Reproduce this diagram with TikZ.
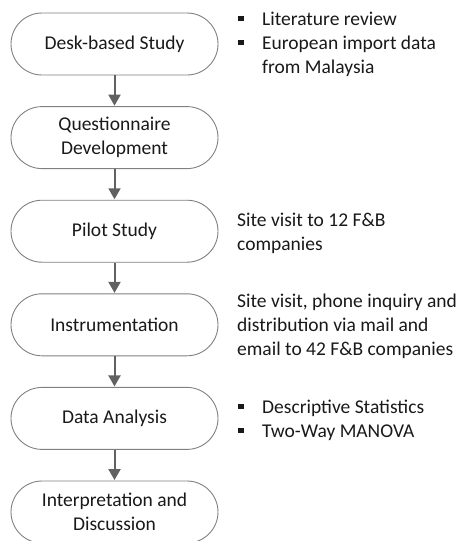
\documentclass[tikz,border=0pt]{standalone}
\usepackage{fontspec}
\setmainfont{Carlito}
\usetikzlibrary{arrows.meta}

% small filled square used as list marker
\newcommand{\sqmark}{\rule[4pt]{5.5pt}{5.5pt}}
\newcommand{\markitem}[1]{\makebox[24pt][l]{\sqmark}#1}

\tikzset{
  stage/.style={draw=black!50, line width=0.9pt, rounded corners=31pt,
    minimum width=207pt, minimum height=62pt, inner sep=0pt, align=center,
    font=\fontsize{19.5}{24}\selectfont, text=black!90},
  note/.style={anchor=base west, inner sep=0pt,
    font=\fontsize{19.5}{24}\selectfont, text=black!90},
  flow/.style={draw=black!62, line width=2pt,
    -{Triangle[length=11pt,width=12pt]}, shorten >=0.5pt}
}

\begin{document}
\begin{tikzpicture}[x=1pt,y=-1pt]
\useasboundingbox (0,0) rectangle (460,541);

% process stages
\node[stage] (s1) at (114.5,44)    {Desk-based Study};
\node[stage] (s2) at (114.5,137.6) {Questionnaire\\Development};
\node[stage] (s3) at (114.5,231.2) {Pilot Study};
\node[stage] (s4) at (114.5,324.8) {Instrumentation};
\node[stage] (s5) at (114.5,418.4) {Data Analysis};
\node[stage] (s6) at (114.5,512)   {Interpretation and\\Discussion};

% connectors
\draw[flow] (s1.south) -- (s2.north);
\draw[flow] (s2.south) -- (s3.north);
\draw[flow] (s3.south) -- (s4.north);
\draw[flow] (s4.south) -- (s5.north);
\draw[flow] (s5.south) -- (s6.north);

% side notes
\node[note] (d1) at (238,25)
  {\begin{tabular}[t]{@{}l@{}}\markitem{Literature review}\\
   \markitem{European import data}\\
   \hspace{24pt}from Malaysia\end{tabular}};
\node[note] (d3) at (237,226)
  {\begin{tabular}[t]{@{}l@{}}Site visit to 12 F\&B\\companies\end{tabular}};
\node[note] (d4) at (237,307)
  {\begin{tabular}[t]{@{}l@{}}Site visit, phone inquiry and\\
   distribution via mail and\\email to 42 F\&B companies\end{tabular}};
\node[note] (d5) at (238,413)
  {\begin{tabular}[t]{@{}l@{}}\markitem{Descriptive Statistics}\\
   \markitem{Two-Way MANOVA}\end{tabular}};
\end{tikzpicture}
\end{document}
